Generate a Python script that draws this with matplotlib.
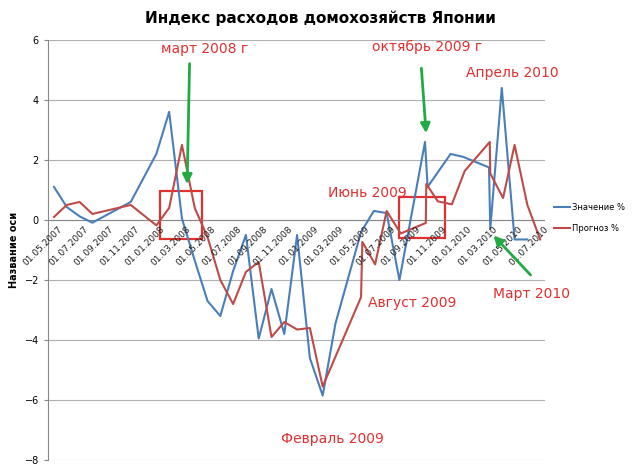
import matplotlib
matplotlib.use("Agg")
import matplotlib.pyplot as plt
from matplotlib.patches import Rectangle

tick_labels = ["01.05.2007","01.07.2007","01.09.2007","01.11.2007","01.01.2008","01.03.2008",
               "01.05.2008","01.07.2008","01.09.2008","01.11.2008","01.01.2009","01.03.2009",
               "01.05.2009","01.07.2009","01.09.2009","01.11.2009","01.01.2010","01.03.2010",
               "01.05.2010","01.07.2010"]
blue_x = [0,1,2,3,6,8,9,10,11,12,13,14,15,16,17,18,19,20,21,22,24,25,26,27,29,29.2,31,32,34,34.1,35,36,37]
blue_y = [1.1,0.43,0.12,-0.09,0.6,2.2,3.6,0.05,-1.35,-2.7,-3.2,-1.7,-0.5,-3.95,-2.3,-3.8,-0.5,-4.6,-5.85,
          -3.45,-0.4,0.3,0.23,-2.0,2.6,1.1,2.2,2.1,1.75,-0.3,4.4,-0.65,-0.65]
red_x = [0,1,2,3,6,8,9,10,11,12,13,14,15,16,17,18,19,20,21,24,24.1,25.1,26,27.1,29.06,29.1,30,31.1,32.1,
         34.06,34.1,35.1,36,37,38]
red_y = [0.1,0.5,0.6,0.2,0.5,-0.18,0.4,2.5,0.4,-0.57,-2.0,-2.8,-1.73,-1.4,-3.9,-3.4,-3.65,-3.6,-5.55,
         -2.57,-0.73,-1.48,0.3,-0.45,-0.1,1.2,0.62,0.52,1.63,2.6,1.55,0.73,2.5,0.5,-0.65]

fig = plt.figure(figsize=(6.4, 4.69), dpi=100)
ax = fig.add_axes([0.075, 0.019, 0.777, 0.896])
ax.set_xlim(-0.47, 38.4)
ax.set_ylim(-8, 6)
ax.set_yticks(range(-8, 7, 2))
ax.yaxis.grid(True, color="#b0b0b0", lw=0.8)
ax.set_axisbelow(True)
for s in ["top", "right", "bottom"]:
    ax.spines[s].set_visible(False)
ax.spines["left"].set_color("#888888")
ax.axhline(0, color="#888888", lw=0.8)
ax.tick_params(axis="y", labelsize=7, length=3, color="#888888")
ax.set_xticks([])
for i, lab in enumerate(tick_labels):
    ax.text(2*i + 0.3, -0.15, lab, rotation=45, ha="right", va="top", fontsize=6.5,
            rotation_mode="anchor", color="#222222")

ax.plot(blue_x, blue_y, color="#4a7ebb", lw=1.5, label="Значение %")
ax.plot(red_x, red_y, color="#be4b48", lw=1.5, label="Прогноз %")

ax.set_ylabel("Название оси", fontsize=7, fontweight="bold")
fig.text(0.5, 0.962, "Индекс расходов домохозяйств Японии", ha="center", va="center",
         fontsize=11, fontweight="bold")
fig.legend(loc="center left", bbox_to_anchor=(0.865, 0.535), frameon=False, fontsize=6,
           handlelength=2.0, handletextpad=0.2, labelspacing=1.5, borderpad=0, borderaxespad=0)

red = "#e03030"
for (x0, x1, y0, y1) in [(8.3, 11.6, -0.65, 0.95), (27.0, 30.6, -0.6, 0.75)]:
    ax.add_patch(Rectangle((x0, y0), x1-x0, y1-y0, fill=False, ec=red, lw=1.6))
texts = [("март 2008 г", 11.8, 5.7), ("октябрь 2009 г", 29.2, 5.75), ("Апрель 2010", 35.8, 4.9),
         ("Июнь 2009", 24.5, 0.9), ("Август 2009", 28.0, -2.75), ("Март 2010", 37.3, -2.45),
         ("Февраль 2009", 21.8, -7.3)]
for t, x, y in texts:
    ax.text(x, y, t, color=red, fontsize=10, ha="center", va="center", clip_on=False)
green = "#22aa44"
for (x0, y0, x1, y1) in [(10.6, 5.3, 10.4, 1.1), (28.7, 5.15, 29.1, 2.8), (37.4, -1.9, 34.2, -0.45)]:
    ax.annotate("", xy=(x1, y1), xytext=(x0, y0),
                arrowprops=dict(arrowstyle="-|>", color=green, lw=2, mutation_scale=14),
                annotation_clip=False)

fig.savefig("out.png", dpi=100)
